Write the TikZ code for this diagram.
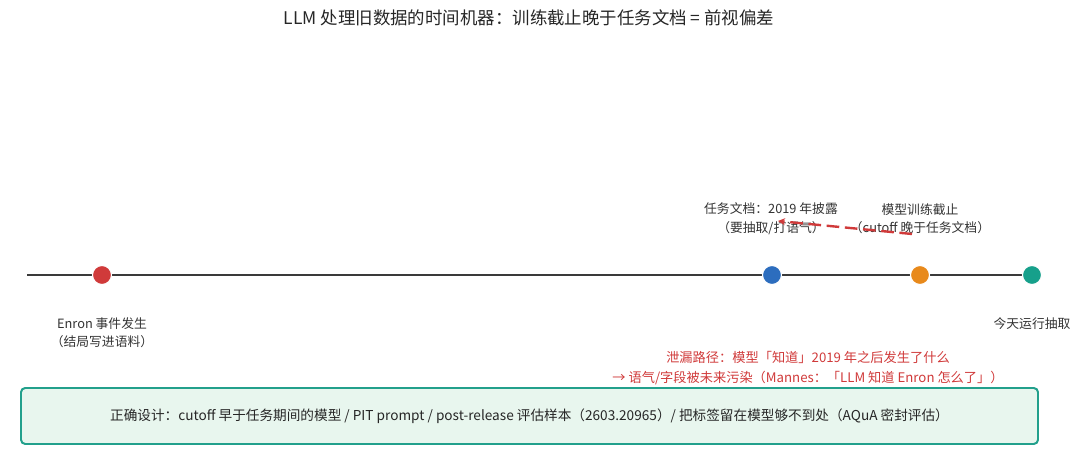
\documentclass[tikz,border=0pt]{standalone}
\usepackage{fontspec}
\setmainfont{Noto Sans CJK SC}
\usetikzlibrary{arrows.meta}
\definecolor{evred}{HTML}{D03A3A}
\definecolor{evblue}{HTML}{2C6DBE}
\definecolor{evorange}{HTML}{E8891B}
\definecolor{evteal}{HTML}{16A08B}
\definecolor{axisgray}{HTML}{3A3A3A}
\definecolor{boxfill}{HTML}{E8F6EE}
\definecolor{boxline}{HTML}{22A08C}
\tikzset{
  event/.style={circle,fill=#1,draw=white,line width=0.8pt,inner sep=0pt,minimum size=13.5pt},
  lbl/.style={font=\fontsize{9.1}{13.2}\selectfont,text=black!80,align=center,inner sep=0pt},
}
\begin{document}
\begin{tikzpicture}[x=0.025cm,y=-0.025cm]
                    \useasboundingbox (0,0) rectangle (1080,458);
                    \node[font=\fontsize{12.4}{14}\selectfont,text=black!85] (title) at (529,18) {LLM 处理旧数据的时间机器：训练截止晚于任务文档 = 前视偏差};
                    \coordinate (axL) at (27,275);
                    \coordinate (axR) at (1032,275);
                    \draw [axisgray, line width=1.5pt] (axL)--(axR);
                    \node[event=evred] (enron) at (102,275) {};
                    \node[event=evblue] (doc) at (772,275) {};
                    \node[event=evorange] (cutoff) at (920,275) {};
                    \node[event=evteal] (today) at (1032,275) {};
                    \node[lbl] (docL) at (771,218.5) {任务文档：2019 年披露\\（要抽取/打语气）};
                    \node[lbl] (cutL) at (920,218.5) {模型训练截止\\（cutoff 晚于任务文档）};
                    \node[lbl] (enronL) at (102,332.5) {Enron 事件发生\\（结局写进语料）};
                    \node[lbl] (todayL) at (1032,324) {今天运行抽取};
                    \coordinate (leakA) at (912,234);
                    \coordinate (leakB) at (778,221);
                    \draw [-{Stealth[length=5pt,width=5pt]}, evred, line width=1.7pt, dash pattern=on 9pt off 4pt] (leakA)--(leakB);
                    \node[lbl,text=evred,font=\fontsize{9.4}{14}\selectfont] (leakL) at (808,368) {泄漏路径：模型「知道」2019 年之后发生了什么\\→ 语气/字段被未来污染（Mannes：「LLM 知道 Enron 怎么了」）};
                    \node[draw=boxline, fill=boxfill, line width=1.4pt, rounded corners=3pt, minimum width=1017*0.025cm, minimum height=56*0.025cm, font=\fontsize{9.7}{12}\selectfont, text=black!85] (fix) at (529.5,416) {正确设计：cutoff 早于任务期间的模型 / PIT prompt / post-release 评估样本（2603.20965）/ 把标签留在模型够不到处（AQuA 密封评估）};
                \end{tikzpicture}
\end{document}
